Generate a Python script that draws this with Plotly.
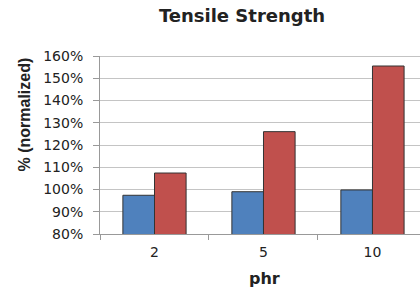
import plotly.graph_objects as go

categories = ["2", "5", "10"]
series_a = [97.4, 99.0, 99.8]
series_b = [107.4, 126.0, 155.5]
y_ticks = [80, 90, 100, 110, 120, 130, 140, 150, 160]
y_tick_labels = [f"{v}%" for v in y_ticks]

W, H = 420, 289
L, R, T, B = 100, 0, 56, 55
PW, PH = W - L - R, H - T - B

def px_x(px):
    return (px - L) / PW

def px_y(py):
    return (H - B - py) / PH

fig = go.Figure()
fig.add_trace(go.Bar(x=categories, y=series_a, marker=dict(color="#4F81BD", line=dict(color="#333333", width=1))))
fig.add_trace(go.Bar(x=categories, y=series_b, marker=dict(color="#C0504D", line=dict(color="#333333", width=1))))

wide = "DejaVu Sans, Verdana, sans-serif"
fig.update_layout(
    width=W, height=H,
    margin=dict(l=L, r=R, t=T, b=B),
    plot_bgcolor="white", paper_bgcolor="white",
    barmode="group", bargap=0.42, bargroupgap=0,
    showlegend=False,
    font=dict(family=wide, color="#222222", size=14),
    title=dict(text="<b>Tensile Strength</b>", x=242 / W, xref="container", xanchor="center",
               y=1 - 16 / H, yref="container", yanchor="middle",
               font=dict(size=18, color="#222222", family=wide)),
    xaxis=dict(type="category", range=[-0.5, 2.436], tickson="boundaries",
               ticks="outside", ticklen=5, tickcolor="#999999",
               showline=True, linecolor="#999999", linewidth=1,
               showgrid=False, automargin=False, ticklabelstandoff=5,
               tickfont=dict(size=14, family=wide, color="#222222")),
    yaxis=dict(range=[80, 160], tickmode="array", tickvals=y_ticks, ticktext=y_tick_labels,
               ticks="outside", ticklen=6, tickcolor="#999999",
               showline=True, linecolor="#999999", linewidth=1,
               showgrid=True, gridcolor="#C4C4C4", gridwidth=1,
               zeroline=False, automargin=False, ticklabelstandoff=7,
               tickfont=dict(size=14, family=wide, color="#222222")),
)
fig.add_shape(type="line", xref="paper", yref="y", x0=0, x1=1, y0=160, y1=160,
              line=dict(color="#888888", width=1))
fig.add_annotation(text="<b>phr</b>", xref="paper", yref="paper", x=px_x(264.5), y=px_y(278),
                   xanchor="center", yanchor="middle", showarrow=False,
                   font=dict(size=16, family=wide, color="#222222"))
fig.add_annotation(text="<b>% (normalized)</b>", xref="paper", yref="paper", x=px_x(23.5), y=px_y(115),
                   xanchor="center", yanchor="middle", showarrow=False, textangle=-90,
                   font=dict(size=16, family="Liberation Sans, Arial, sans-serif", color="#222222"))

fig.write_html("out.html", config={"displayModeBar": False},
               post_script="document.body.style.margin='0';")
